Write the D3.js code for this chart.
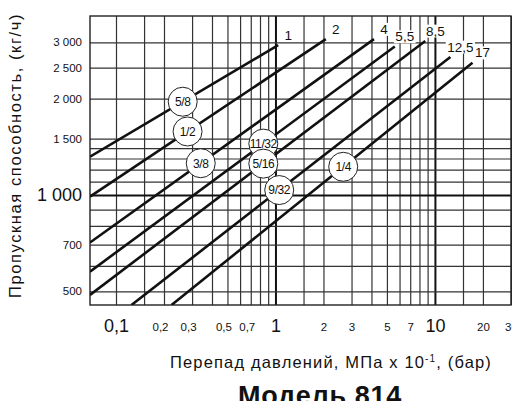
<!DOCTYPE html>
<html>
<head>
<meta charset="utf-8">
<script src="https://cdn.jsdelivr.net/npm/d3@7"></script>
<style>
  body { margin: 0; background: #fff; }
  svg { display: block; }
  text { font-family: "Liberation Sans", Arial, sans-serif; fill: #111; }
</style>
</head>
<body>
<svg id="chart" width="512" height="401"></svg>
<script>
  // valve sizes (circle labels) and max pressure drop labels at line ends
  var sizes = ['5/8', '1/2', '3/8', '11/32', '5/16', '9/32', '1/4'];
  var maxDropLabels = ['1', '2', '4', '5,5', '8,5', '12,5', '17'];
  // each line: start point and end point (pressure drop, capacity)
  var startDrop = [0.0687, 0.0687, 0.0687, 0.0687, 0.0687, 0.125, 0.223];
  var startFlow = [1317, 988, 710, 576, 487, 453, 453];
  var endDrop = [1.04, 2.07, 4.15, 5.6, 8.7, 12.5, 17.2];
  var endFlow = [2940, 3070, 3070, 2910, 3030, 2700, 2590];
  // where the size circle sits along each line
  var sizeAtDrop = [0.262, 0.281, 0.34, 0.839, 0.839, 1.056, 2.66];

  var xGrid = [0.1, 0.15, 0.2, 0.3, 0.4, 0.5, 0.6, 0.7, 0.8, 0.9, 1, 1.5, 2, 3, 4, 5, 6, 7, 8, 9, 10, 15, 20, 30];
  var xBig = [0.1, 1, 10];
  var xSmall = [0.2, 0.3, 0.5, 0.7, 2, 3, 5, 7, 20, 30];
  var yGrid = [500, 600, 700, 800, 900, 1000, 1100, 1200, 1300, 1400, 1500, 2000, 2500, 3000];
  var yBig = [1000];
  var ySmall = [500, 700, 1500, 2000, 2500, 3000];
  var thickX = [1, 10];
  var thickY = [1000];

  var LEFT = 90, RIGHT = 511, TOP = 16, BOTTOM = 305;
  var svg = d3.select('#chart');

  var ru = d3.formatLocale({ decimal: ',', thousands: '\u00a0', grouping: [3], currency: ['', ''] });
  var fmtX = ru.format('~g');
  var fmtY = ru.format(',d');

  var x = d3.scaleLog().domain([0.0687, 30]).range([LEFT, RIGHT]);
  var y = d3.scaleLog().domain([453, 3625]).range([BOTTOM, TOP]);

  svg.append('rect').attr('width', 512).attr('height', 401).attr('fill', '#fff');

  svg.append('defs').append('clipPath').attr('id', 'plot')
    .append('rect')
    .attr('x', LEFT).attr('y', TOP)
    .attr('width', RIGHT - LEFT).attr('height', BOTTOM - TOP);

  // grid
  var gx = svg.append('g')
    .attr('transform', 'translate(0,' + BOTTOM + ')')
    .call(d3.axisBottom(x).tickValues(xGrid).tickSize(-(BOTTOM - TOP)).tickFormat(''));
  var gy = svg.append('g')
    .attr('transform', 'translate(' + LEFT + ',0)')
    .call(d3.axisLeft(y).tickValues(yGrid).tickSize(-(RIGHT - LEFT)).tickFormat(''));
  [gx, gy].forEach(function(g) {
    g.select('.domain').remove();
    g.selectAll('line').attr('stroke', '#333').attr('stroke-width', 1.2);
  });
  gx.selectAll('.tick').filter(function(d) { return thickX.indexOf(d) >= 0; })
    .select('line').attr('stroke', '#111').attr('stroke-width', 2);
  gy.selectAll('.tick').filter(function(d) { return thickY.indexOf(d) >= 0; })
    .select('line').attr('stroke', '#111').attr('stroke-width', 2);

  svg.append('rect')
    .attr('x', LEFT).attr('y', TOP)
    .attr('width', RIGHT - LEFT).attr('height', BOTTOM - TOP)
    .attr('fill', 'none').attr('stroke', '#222').attr('stroke-width', 1.4);

  // x tick labels
  function xLabels(values, size, pad, dx) {
    var g = svg.append('g')
      .attr('transform', 'translate(0,' + BOTTOM + ')')
      .call(d3.axisBottom(x).tickValues(values).tickSize(0).tickPadding(pad).tickFormat(fmtX));
    g.select('.domain').remove();
    g.selectAll('text')
      .attr('font-size', size)
      .attr('font-family', '"Liberation Sans", Arial, sans-serif')
      .attr('fill', '#111')
      .attr('dy', 0)
      .attr('dx', function(d) { return d < 1 ? dx : 0; });
  }
  xLabels(xBig, 18, 27, 0);
  xLabels(xSmall, 11.5, 26, -4);

  // y tick labels
  function yLabels(values, size) {
    var g = svg.append('g')
      .attr('transform', 'translate(' + LEFT + ',0)')
      .call(d3.axisLeft(y).tickValues(values).tickSize(0).tickPadding(8).tickFormat(fmtY));
    g.select('.domain').remove();
    g.selectAll('text')
      .attr('font-size', size)
      .attr('font-family', '"Liberation Sans", Arial, sans-serif')
      .attr('fill', '#111');
  }
  yLabels(ySmall, 11.5);
  yLabels(yBig, 18);

  // lines
  var line = d3.line().x(function(d) { return x(d[0]); }).y(function(d) { return y(d[1]); });
  var series = sizes.map(function(s, i) {
    return {
      size: s,
      label: maxDropLabels[i],
      pts: [[startDrop[i], startFlow[i]], [endDrop[i], endFlow[i]]],
      at: sizeAtDrop[i]
    };
  });

  svg.append('g').attr('clip-path', 'url(#plot)')
    .selectAll('path').data(series).enter().append('path')
    .attr('d', function(d) { return line(d.pts); })
    .attr('fill', 'none')
    .attr('stroke', '#111')
    .attr('stroke-width', 2.6);

  // max drop labels with white background
  var lab = svg.append('g').selectAll('g').data(series).enter().append('g')
    .attr('transform', function(d) {
      return 'translate(' + (x(d.pts[1][0]) + 10) + ',' + (y(d.pts[1][1]) - 10) + ')';
    });
  lab.append('rect');
  lab.append('text')
    .attr('text-anchor', 'middle')
    .attr('dy', '0.35em')
    .attr('font-size', 13.5)
    .text(function(d) { return d.label; });
  lab.each(function() {
    var g = d3.select(this);
    var b = g.select('text').node().getBBox();
    g.select('rect')
      .attr('x', b.x - 1.5).attr('y', b.y + 1)
      .attr('width', b.width + 3).attr('height', b.height - 2)
      .attr('fill', '#fff');
  });

  // size circles
  var circ = svg.append('g').selectAll('g').data(series).enter().append('g')
    .attr('transform', function(d) {
      var along = d3.scaleLinear()
        .domain([x(d.pts[0][0]), x(d.pts[1][0])])
        .range([y(d.pts[0][1]), y(d.pts[1][1])]);
      var cx = x(d.at);
      return 'translate(' + cx + ',' + along(cx) + ')';
    });
  circ.append('circle')
    .attr('r', 14.5)
    .attr('fill', '#fff')
    .attr('stroke', '#222')
    .attr('stroke-width', 1);
  circ.append('text')
    .attr('text-anchor', 'middle')
    .attr('dy', '0.36em')
    .attr('font-size', 12)
    .attr('letter-spacing', -0.4)
    .text(function(d) { return d.size; });

  // titles, stretched to the width they take in the original
  function fitTo(sel, len) {
    var n = sel.text().length;
    var w = sel.node().getComputedTextLength();
    sel.attr('letter-spacing', (len - w) / n);
  }

  var yTitle = svg.append('text')
    .attr('transform', 'translate(21,298) rotate(-90)')
    .attr('font-size', 16.5)
    .text('Пропускная способность, (кг/ч)');
  fitTo(yTitle, 285);

  var xTitle = svg.append('text')
    .attr('x', 170).attr('y', 368)
    .attr('font-size', 16.5);
  xTitle.append('tspan').text('Перепад давлений, МПа x 10');
  xTitle.append('tspan').attr('dy', -6).attr('font-size', 10).text('-1');
  xTitle.append('tspan').attr('dy', 6).text(', (бар)');
  fitTo(xTitle, 322);

  var title = svg.append('text')
    .attr('x', 238).attr('y', 405)
    .attr('font-size', 27)
    .attr('font-weight', 'bold')
    .text('Модель 814');
  fitTo(title, 164);
</script>
</body>
</html>
